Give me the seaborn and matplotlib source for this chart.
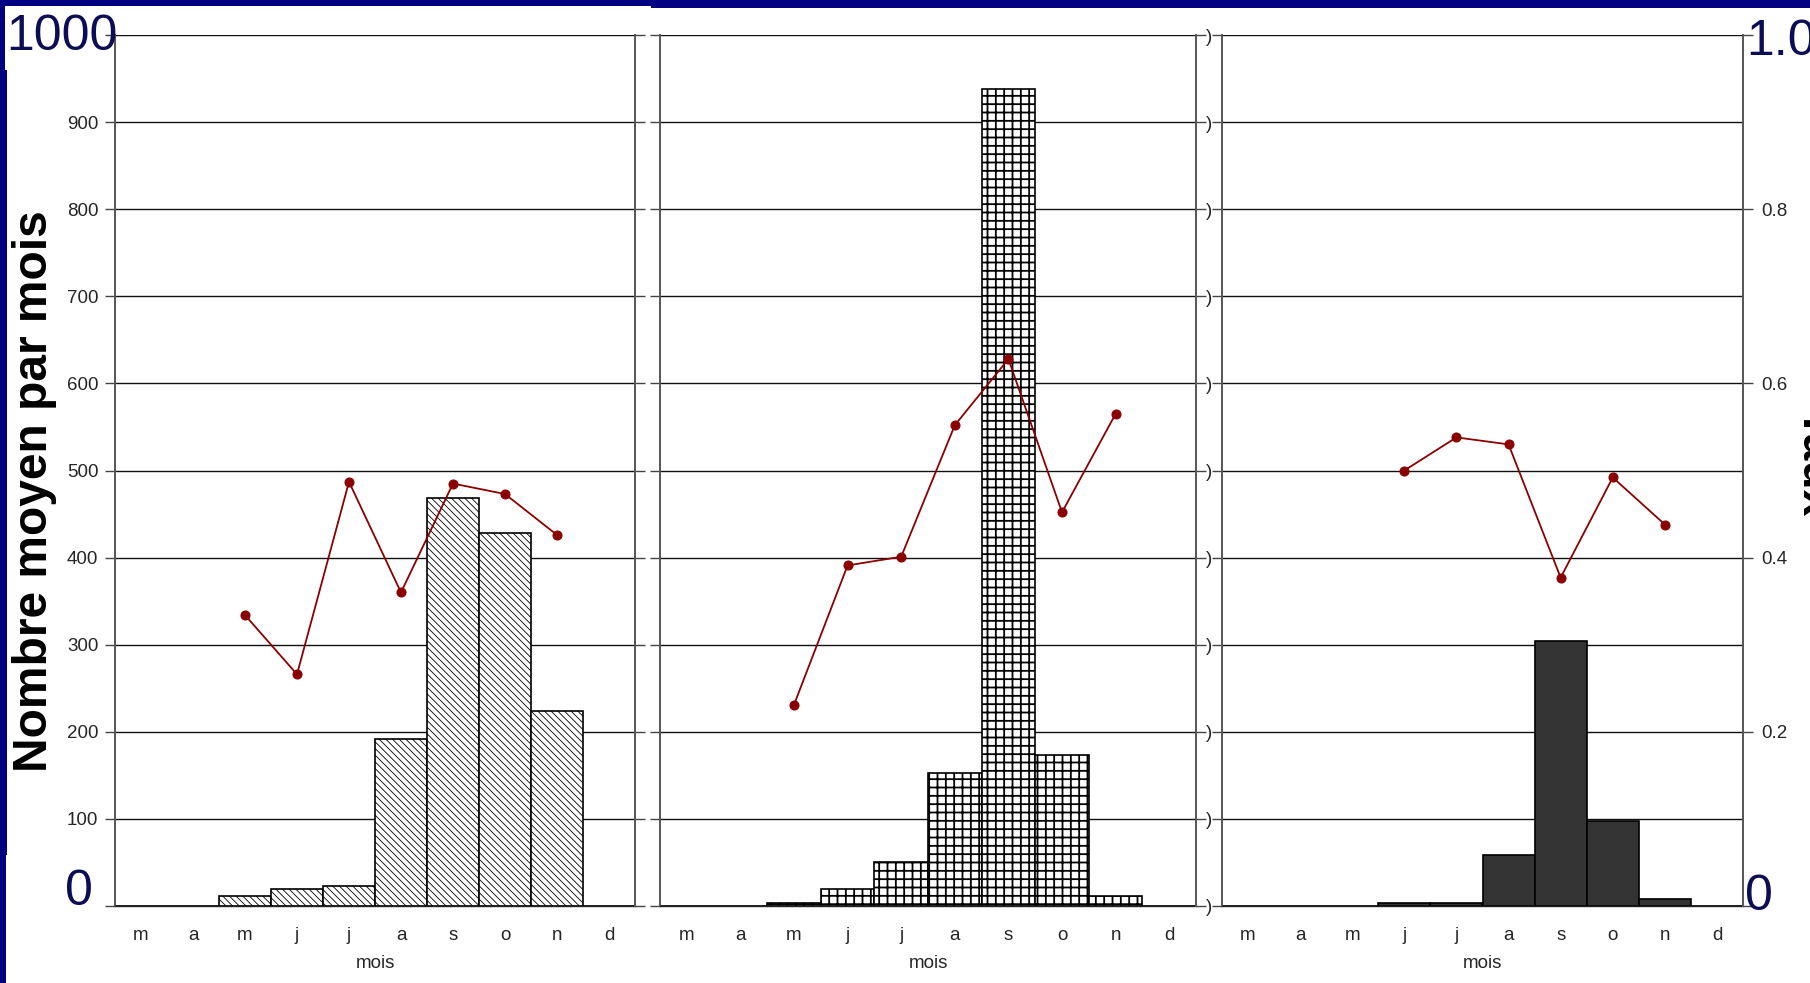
import numpy as np
import pandas as pd
import matplotlib
matplotlib.use("Agg")
import matplotlib.pyplot as plt
import seaborn as sns
from matplotlib.patches import Rectangle

# ---------------- data ----------------
months = ["mars", "avril", "mai", "juin", "juillet", "août",
          "septembre", "octobre", "novembre", "décembre"]
month_labels = ["m", "a", "m", "j", "j", "a", "s", "o", "n", "d"]

counts_1 = [0, 0, 11, 20, 23, 192, 468, 428, 224, 0]
counts_2 = [0, 0, 4, 19, 50, 153, 938, 173, 12, 0]
counts_3 = [0, 0, 0, 4, 4, 59, 304, 98, 8, 0]

rate_months_1 = ["mai", "juin", "juillet", "août", "septembre", "octobre", "novembre"]
rate_1 = [0.334, 0.266, 0.487, 0.360, 0.485, 0.473, 0.426]
rate_months_2 = ["mai", "juin", "juillet", "août", "septembre", "octobre", "novembre"]
rate_2 = [0.231, 0.391, 0.401, 0.552, 0.628, 0.452, 0.565]
rate_months_3 = ["juin", "juillet", "août", "septembre", "octobre", "novembre"]
rate_3 = [0.500, 0.538, 0.530, 0.377, 0.492, 0.438]

left_ticks = [0, 100, 200, 300, 400, 500, 600, 700, 800, 900, 1000]
left_ticklabels = ["", "100", "200", "300", "400", "500", "600", "700", "800", "900", ""]
right_ticks = [0, 0.2, 0.4, 0.6, 0.8, 1.0]
right_ticklabels = ["", "0.2", "0.4", "0.6", "0.8", ""]
mid_ticks = [0, 0.1, 0.2, 0.3, 0.4, 0.5, 0.6, 0.7, 0.8, 0.9, 1.0]

x_title = "mois"
y_title = "Nombre moyen par mois"
y2_title = "Taux"

# ---------------- style ----------------
sns.set_style("white")
plt.rcParams["font.family"] = ["Liberation Sans", "DejaVu Sans"]

W, H = 1810, 983
fig = plt.figure(figsize=(W / 100, H / 100), dpi=100)
fig.patch.set_facecolor("white")

NAVY = "#000080"
TEXT_NAVY = "#0d0d55"
RED = "#8B0000"
TICK_FS = 13.5


def frac_rect(x0, y0, x1, y1):
    """pixel box (top-left origin) -> figure fraction rect"""
    return (x0 / W, 1 - y1 / H, (x1 - x0) / W, (y1 - y0) / H)


# navy slide frame fragments
for (x0, y0, x1, y1) in [(0, 0, 651, 6), (651, 0, 1810, 8), (0, 0, 5, 983),
                         (0, 70, 7, 855), (0, 855, 6, 983)]:
    l, b, w, h = frac_rect(x0, y0, x1, y1)
    fig.add_artist(Rectangle((l, b), w, h, transform=fig.transFigure,
                             facecolor=NAVY, edgecolor="none", zorder=0))

panels = [
    dict(box=(115, 635), counts=counts_1, rm=rate_months_1, rate=rate_1,
         hatch="\\\\\\\\\\", face="white", hlw=0.6),
    dict(box=(660, 1196), counts=counts_2, rm=rate_months_2, rate=rate_2,
         hatch="++", face="white", hlw=1.3),
    dict(box=(1222, 1743), counts=counts_3, rm=rate_months_3, rate=rate_3,
         hatch=None, face="#333333", hlw=1.0),
]

top_px, bot_px = 35, 906
for i, p in enumerate(panels):
    x0, x1 = p["box"]
    ax = fig.add_axes([x0 / W, 1 - bot_px / H, (x1 - x0) / W, (bot_px - top_px) / H])
    ax.set_facecolor("white")
    df = pd.DataFrame({"mois": months, "n": p["counts"]})
    kw = dict(hatch=p["hatch"]) if p["hatch"] else {}
    with plt.rc_context({"hatch.linewidth": p["hlw"]}):
        sns.barplot(data=df, x="mois", y="n", order=months, width=1.0,
                    color=p["face"], saturation=1, edgecolor="black",
                    linewidth=1.2, ax=ax, **kw)
    for patch in ax.patches:
        if hasattr(patch, "set_hatch_linewidth"):
            patch.set_hatch_linewidth(p["hlw"])
    ax.set_xlim(-0.5, 9.5)
    ax.set_ylim(0, 1000)
    ax.set_axisbelow(True)
    ax.set_yticks(left_ticks)
    if i == 0:
        ax.set_yticklabels(left_ticklabels)
    else:
        ax.set_yticklabels([])
    ax.yaxis.grid(True, color="#111111", lw=1.0)
    ax.xaxis.grid(False)
    ax.set_xticks(range(len(months)))
    ax.set_xticklabels(month_labels)
    ax.set_xticks(np.arange(-0.5, len(months), 1), minor=True)
    ax.tick_params(axis="x", which="major", length=0, pad=15, labelsize=TICK_FS)
    ax.tick_params(axis="x", which="minor", length=7, width=1.0, color="#444444",
                   direction="out")
    ax.tick_params(axis="y", which="major", length=7, width=1.0, color="#444444",
                   direction="out", labelsize=TICK_FS, pad=5, left=True)
    ax.set_xlabel(x_title, fontsize=TICK_FS, labelpad=8)
    ax.set_ylabel("")
    for s in ["top", "right"]:
        ax.spines[s].set_visible(False)
    ax.spines["left"].set_color("#555555")
    ax.spines["left"].set_linewidth(1.4)
    ax.spines["bottom"].set_color("#222222")
    ax.spines["bottom"].set_linewidth(1.0)

    ax2 = ax.twinx()
    pos = [months.index(m) for m in p["rm"]]
    sns.lineplot(x=pos, y=p["rate"], ax=ax2, color=RED, lw=1.3, marker="o",
                 markersize=6.5, markeredgecolor=RED, markerfacecolor=RED)
    ax2.set_xlim(-0.5, 9.5)
    ax2.set_ylim(0, 1.0)
    for s in ["top", "left", "bottom"]:
        ax2.spines[s].set_visible(False)
    ax2.spines["right"].set_color("#555555")
    ax2.spines["right"].set_linewidth(1.4)
    ax2.set_ylabel("")
    ax2.grid(False)
    if i == 2:
        ax2.set_yticks(right_ticks)
        ax2.set_yticklabels(right_ticklabels)
        ax2.tick_params(axis="y", length=7, width=1.0, color="#444444",
                        direction="out", labelsize=TICK_FS, pad=6, right=True)
    elif i == 1:
        ax2.set_yticks(mid_ticks)
        ax2.set_yticklabels([")"] * len(mid_ticks))
        ax2.tick_params(axis="y", length=7, width=1.0, color="#444444",
                        direction="out", labelsize=TICK_FS, pad=0, right=True)
    else:
        ax2.set_yticks(mid_ticks)
        ax2.set_yticklabels([])
        ax2.tick_params(axis="y", length=7, width=1.0, color="#444444",
                        direction="out", right=True)

# big overlay labels
fig.text(6 / W, 1 - 37 / H, "1000", fontsize=36, color=TEXT_NAVY, ha="left", va="center")
fig.text(79 / W, 1 - 892 / H, "0", fontsize=36, color=TEXT_NAVY, ha="center", va="center")
fig.text(1745 / W, 1 - 897 / H, "0", fontsize=36, color=TEXT_NAVY, ha="left", va="center")
fig.text(1746 / W, 1 - 42 / H, "1.0", fontsize=36, color=TEXT_NAVY, ha="left", va="center")

fig.text(35 / W, 1 - 491 / H, y_title, rotation=90, fontsize=34.5, fontweight="bold",
         ha="center", va="center", color="black")
fig.text(1792 / W, 1 - 462 / H, y2_title, rotation=270, fontsize=34.5, fontweight="bold",
         ha="left", va="center", color="black")

fig.savefig("out.png", dpi=100, facecolor="white")
